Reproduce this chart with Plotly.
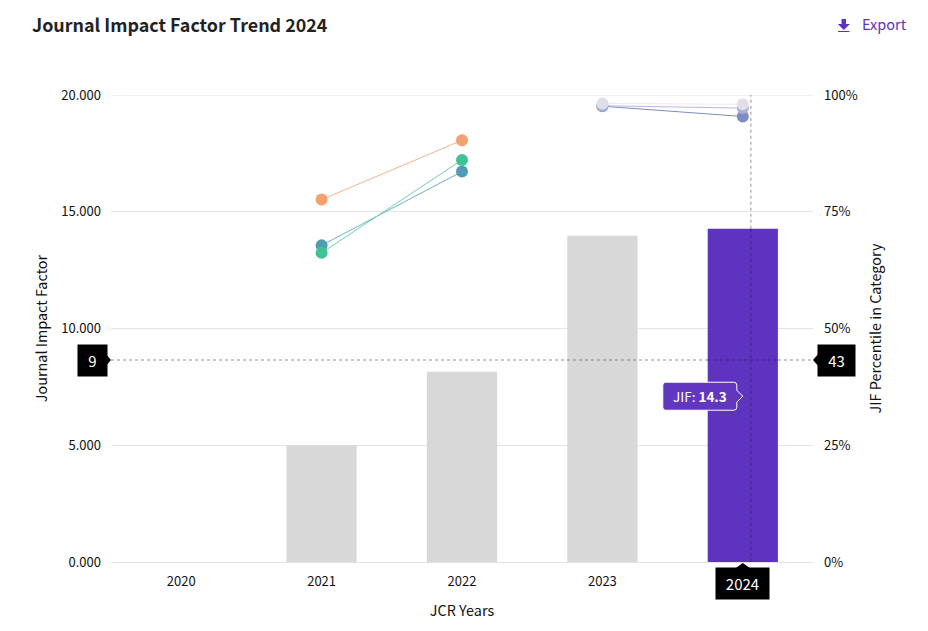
import plotly.graph_objects as go

years = ["2020", "2021", "2022", "2023", "2024"]
x_ticklabels = ["2020", "2021", "2022", "2023", ""]
jif = [None, 5.0, 8.15, 13.97, 14.27]
bar_colors = ["#d8d8d8", "#d8d8d8", "#d8d8d8", "#d8d8d8", "#5e33bf"]

line_years = [
    ["2021", "2022"], ["2021", "2022"], ["2021", "2022"],
    ["2023", "2024"], ["2023", "2024"], ["2023", "2024"],
]
percentiles = [
    [77.6, 90.3], [67.8, 83.6], [66.2, 86.1],
    [97.6, 95.4], [97.7, 97.2], [98.2, 98.0],
]
marker_colors = ["#f4a06f", "#4f9db5", "#3fc394", "#7f8cc3", "#a9afd8", "#dfdfe9"]
line_colors = ["#f3b18c", "#6fb0c2", "#6dcfae", "#7f8cc3", "#b4b9dd", "#ececf2"]

y_ticks = [0, 5, 10, 15, 20]
y_ticklabels = ["0.000", "5.000", "10.000", "15.000", "20.000"]
y2_ticks = [0, 25, 50, 75, 100]
y2_ticklabels = ["0%", "25%", "50%", "75%", "100%"]

cross_year = "2024"
cross_offset = 0.057
cross_y2_label = "43"
cross_y2 = 43.25
cross_left = "9"
tooltip = "JIF: <b>14.3</b>"
tooltip_y2 = 35.5

FONT = "Noto Sans CJK SC"
W, H = 928, 631
L, R, T, B = 111, 115, 95, 69
cross_idx = years.index(cross_year)
cross_x = cross_idx + cross_offset
bar_left, bar_right, bar_top = cross_idx - 0.25, cross_idx + 0.25, jif[cross_idx]

fig = go.Figure()
fig.add_trace(go.Bar(x=years, y=jif, marker=dict(color=bar_colors, line_width=0),
                     width=0.5, yaxis="y", showlegend=False, hoverinfo="skip"))
for xs, ys, lc, mc in zip(line_years, percentiles, line_colors, marker_colors):
    fig.add_trace(go.Scatter(x=xs, y=ys, mode="lines+markers", yaxis="y2",
                             line=dict(color=lc, width=1),
                             marker=dict(color=mc, size=12, line_width=0),
                             cliponaxis=False, showlegend=False, hoverinfo="skip"))

dot = dict(color="rgba(80,80,80,0.42)", width=1.5, dash="3px,3px")
dot_dark = dict(color="#46289a", width=1.5, dash="3px,3px")
shapes = [
    # top gridline, which the axis leaves out at its range edge
    dict(type="line", xref="paper", x0=0, x1=1, yref="y", y0=y_ticks[-1], y1=y_ticks[-1],
         line=dict(color="#e4e4e4", width=1), layer="below"),
    # vertical crosshair: over white, then over the bar
    dict(type="line", xref="x", x0=cross_x, x1=cross_x, yref="y", y0=bar_top, y1=y_ticks[-1],
         line=dot, layer="above"),
    dict(type="line", xref="x", x0=cross_x, x1=cross_x, yref="y", y0=0, y1=bar_top,
         line=dot_dark, layer="above"),
    # horizontal crosshair: left of, across and right of the bar
    dict(type="line", xref="x", x0=-0.5, x1=bar_left, yref="y2", y0=cross_y2, y1=cross_y2,
         line=dot, layer="above"),
    dict(type="line", xref="x", x0=bar_left, x1=bar_right, yref="y2", y0=cross_y2, y1=cross_y2,
         line=dot_dark, layer="above"),
    dict(type="line", xref="x", x0=bar_right, x1=4.5, yref="y2", y0=cross_y2, y1=cross_y2,
         line=dot, layer="above"),
    # pointer on the left tag
    dict(type="path", xref="paper", xsizemode="pixel", xanchor=0, yref="y2", ysizemode="pixel",
         yanchor=cross_y2, path="M -6 -7 L 0 0 L -6 7 Z", fillcolor="black", line_width=0),
    # pointer on the right tag
    dict(type="path", xref="paper", xsizemode="pixel", xanchor=1, yref="y2", ysizemode="pixel",
         yanchor=cross_y2, path="M 6 -7 L 0 0 L 6 7 Z", fillcolor="black", line_width=0),
    # pointer on the bottom tag
    dict(type="path", xref="x", xsizemode="pixel", xanchor=cross_idx, yref="paper", ysizemode="pixel",
         yanchor=0, path="M -7 -6 L 0 -1 L 7 -6 Z", fillcolor="black", line_width=0),
    # tooltip box with rounded corners and notch
    dict(type="path", xref="x", xsizemode="pixel", xanchor=cross_idx, yref="y2", ysizemode="pixel",
         yanchor=tooltip_y2,
         path="M -77 14 L -9 14 Q -6 14 -6 11 L -6 6 L 0 0 L -6 -6 L -6 -11 Q -6 -14 -9 -14 "
              "L -77 -14 Q -80 -14 -80 -11 L -80 11 Q -80 14 -77 14 Z",
         fillcolor="#6237c0", line=dict(color="white", width=1), layer="above"),
    # export icon
    dict(type="path", xref="paper", xsizemode="pixel", xanchor=1, yref="paper", ysizemode="pixel",
         yanchor=1, path="M 28.5 76 L 33 76 L 33 71 L 37 71 L 30.8 65 L 24.8 71 L 28.5 71 Z M 25 64 L 36.5 64 L 36.5 63 L 25 63 Z",
         fillcolor="#5e33bf", line_width=0),
]

tag = dict(showarrow=False, bgcolor="black", font=dict(color="white", size=15, family=FONT),
           borderpad=0, height=31)
annotations = [
    dict(tag, text=cross_left, xref="paper", x=0, xanchor="right", xshift=-3.5,
         yref="y2", y=cross_y2, yanchor="middle", width=29),
    dict(tag, text=cross_y2_label, xref="paper", x=1, xanchor="left", xshift=4,
         yref="y2", y=cross_y2, yanchor="middle", width=37),
    dict(tag, text=cross_year, xref="x", x=cross_idx, xanchor="center",
         yref="paper", y=0, yanchor="top", yshift=-5, width=53),
    dict(text=tooltip, showarrow=False, xref="x", x=cross_idx, xanchor="center", xshift=-43,
         yref="y2", y=tooltip_y2, yanchor="middle",
         font=dict(color="white", size=13.5, family=FONT)),
    dict(text="Journal Impact Factor Trend 2024", showarrow=False, xref="paper", yref="paper",
         x=0, xshift=-81, xanchor="left", y=1, yshift=71.5, yanchor="middle",
         font=dict(size=17.9, color="#222222", family=FONT, weight=600)),
    dict(text="Export", showarrow=False, xref="paper", yref="paper",
         x=1, xshift=47, xanchor="left", y=1, yshift=71.5, yanchor="middle",
         font=dict(size=14.5, color="#5e33bf", family=FONT)),
]

fig.update_layout(
    width=W, height=H, margin=dict(l=L, r=R, t=T, b=B, pad=0),
    paper_bgcolor="white", plot_bgcolor="white",
    font=dict(family=FONT, size=13, color="#111111"),
    bargap=0.5, shapes=shapes, annotations=annotations, hovermode=False,
    xaxis=dict(type="category", categoryorder="array", categoryarray=years,
               tickvals=years, ticktext=x_ticklabels,
               range=[-0.5, 4.5], showgrid=False, showline=True, linecolor="#e2e2e2",
               ticks="", tickfont=dict(size=13), zeroline=False, ticklabelstandoff=7,
               title=dict(text="JCR Years", standoff=17, font=dict(size=14.4))),
    yaxis=dict(range=[0, 20], tickvals=y_ticks, ticktext=y_ticklabels, showgrid=True,
               gridcolor="#e4e4e4", gridwidth=1, zeroline=False, ticks="", ticklabelstandoff=9,
               title=dict(text="Journal Impact Factor", standoff=10, font=dict(size=14.4))),
    yaxis2=dict(range=[0, 100], tickvals=y2_ticks, ticktext=y2_ticklabels, overlaying="y",
                side="right", showgrid=False, zeroline=False, ticks="", ticklabelstandoff=10,
                title=dict(text="JIF Percentile in Category", standoff=14, font=dict(size=14.4))),
)

fig.write_html("out.html", config=dict(displayModeBar=False),
               post_script="document.body.style.margin='0';document.body.style.overflow='hidden';")
